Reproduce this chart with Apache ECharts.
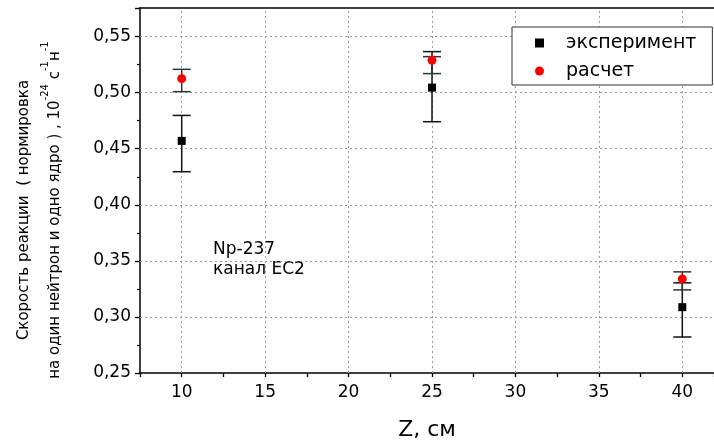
<!DOCTYPE html>
<html>
<head>
<meta charset="utf-8">
<script src="https://cdn.jsdelivr.net/npm/echarts@6/dist/echarts.min.js"></script>
<style>
html,body{margin:0;padding:0;background:#fff;}
#chart{width:714px;height:440px;}
</style>
</head>
<body>
<div id="chart"></div>
<script>
// ---- data ----
const zValues = [10, 25, 40];
const expValues = [0.457, 0.5045, 0.3087];
const expLow = [0.4295, 0.4741, 0.2821];
const expHigh = [0.4797, 0.5366, 0.3304];
const calcValues = [0.5125, 0.5288, 0.3339];
const calcLow = [0.5009, 0.5170, 0.3241];
const calcHigh = [0.5208, 0.5321, 0.3402];
const xGridTicks = [10, 15, 20, 25, 30, 35, 40];
const yGridTicks = [0.30, 0.35, 0.40, 0.45, 0.50, 0.55];
const seriesNames = ['эксперимент', 'расчет'];

const FONT = 'DejaVu Sans';
const chart = echarts.init(document.getElementById('chart'), null, {renderer: 'canvas'});

function errorBars(low, high, color) {
  return {
    type: 'custom',
    silent: true,
    z: 3,
    data: zValues.map((z, i) => [z, low[i], high[i]]),
    encode: {x: 0, y: [1, 2]},
    renderItem: function (params, api) {
      const x = api.coord([api.value(0), api.value(1)])[0];
      const ylo = api.coord([api.value(0), api.value(1)])[1];
      const yhi = api.coord([api.value(0), api.value(2)])[1];
      const hw = 9;
      const capStyle = {stroke: color, lineWidth: 1.5, fill: null};
      return {
        type: 'group',
        children: [
          {type: 'rect', shape: {x: x - 0.75, y: yhi, width: 1.5, height: ylo - yhi}, style: {fill: color}},
          {type: 'line', shape: {x1: x - hw, y1: ylo, x2: x + hw, y2: ylo}, style: capStyle},
          {type: 'line', shape: {x1: x - hw, y1: yhi, x2: x + hw, y2: yhi}, style: capStyle}
        ]
      };
    }
  };
}

const gridStyle = {color: '#9a9a9a', width: 1, type: [2, 3]};

const option = {
  animation: false,
  backgroundColor: '#fff',
  textStyle: {fontFamily: FONT},
  grid: {left: 140, right: 0, top: 8, bottom: 67, containLabel: false, outerBoundsMode: 'none'},
  legend: {
    data: seriesNames,
    orient: 'vertical',
    left: 512,
    top: 27,
    padding: [6, 16, 4, 23],
    itemWidth: 9,
    itemHeight: 9,
    itemGap: 8,
    borderColor: '#333',
    borderWidth: 1,
    backgroundColor: '#fff',
    itemStyle: {opacity: 1},
    textStyle: {fontFamily: FONT, fontSize: 19, color: '#000', lineHeight: 20, padding: [0, 0, 0, 17]}
  },
  xAxis: [{
    type: 'value',
    min: 7.5,
    max: 41.9,
    interval: 2.5,
    name: 'Z, см',
    nameLocation: 'middle',
    nameGap: 46,
    nameTextStyle: {fontFamily: FONT, fontSize: 22, color: '#000'},
    axisLine: {show: true, onZero: false, lineStyle: {color: '#000', width: 1.5}},
    axisTick: {show: true, inside: false, length: 4, lineStyle: {color: '#000', width: 1.3}},
    axisLabel: {
      fontFamily: FONT, fontSize: 17, color: '#000', margin: 11,
      showMinLabel: true, showMaxLabel: true,
      formatter: function (v) {
        const r = Math.round(v);
        return (Math.abs(v - r) < 1e-6 && r % 5 === 0) ? String(r) : '';
      }
    },
    splitLine: {show: false}
  }, {
    type: 'value',
    position: 'top',
    min: 7.5,
    max: 41.9,
    axisLine: {show: true, onZero: false, lineStyle: {color: '#000', width: 1.5}},
    axisTick: {show: false},
    axisLabel: {show: false},
    splitLine: {show: false}
  }],
  yAxis: {
    type: 'value',
    min: 0.25,
    max: 0.5755,
    interval: 0.05,
    axisLine: {show: true, onZero: false, lineStyle: {color: '#000', width: 1.5}},
    axisTick: {show: true, inside: false, length: 5, lineStyle: {color: '#000', width: 1.3}},
    minorTick: {show: true, splitNumber: 2, length: 3, lineStyle: {color: '#000', width: 1.2}},
    axisLabel: {
      fontFamily: FONT, fontSize: 17, color: '#000', margin: 9,
      formatter: function (v) {
        const r = Math.round(v * 100);
        if (Math.abs(v * 100 - r) > 1e-6 || r % 5 !== 0) return '';
        return v.toFixed(2).replace('.', ',');
      }
    },
    splitLine: {show: false}
  },
  graphic: [
    {
      type: 'text',
      x: 40,
      y: 210,
      rotation: Math.PI / 2,
      style: {
        text: 'Скорость реакции  ( нормировка\nна один нейтрон и одно ядро ) , 10{sup|-24} с{sup|-1}н{sup|-1}',
        fontFamily: FONT,
        fontSize: 15,
        lineHeight: 31,
        fill: '#000',
        align: 'center',
        verticalAlign: 'middle',
        rich: {
          sup: {fontFamily: FONT, fontSize: 10, verticalAlign: 'top', lineHeight: 24, fill: '#000'}
        }
      }
    },
    {
      type: 'text',
      left: 213,
      top: 240,
      style: {
        text: 'Np-237\nканал EC2',
        fontFamily: FONT,
        fontSize: 17,
        lineHeight: 20,
        fill: '#000'
      }
    }
  ],
  series: [
    {
      type: 'line',
      data: [],
      z: 1,
      silent: true,
      markLine: {
        silent: true,
        z: 1,
        symbol: ['none', 'none'],
        label: {show: false},
        lineStyle: gridStyle,
        emphasis: {disabled: true},
        data: xGridTicks.map(v => ({xAxis: v})).concat(yGridTicks.map(v => ({yAxis: v})))
      }
    },
    errorBars(expLow, expHigh, '#111'),
    errorBars(calcLow, calcHigh, '#333'),
    {
      name: seriesNames[0],
      type: 'scatter',
      z: 5,
      symbol: 'rect',
      symbolSize: 8,
      itemStyle: {color: '#000', opacity: 1},
      data: zValues.map((z, i) => [z, expValues[i]])
    },
    {
      name: seriesNames[1],
      type: 'scatter',
      z: 6,
      symbol: 'circle',
      symbolSize: 9,
      itemStyle: {color: '#ff0000', opacity: 1},
      data: zValues.map((z, i) => [z, calcValues[i]])
    }
  ]
};
chart.setOption(option);
</script>
</body>
</html>
